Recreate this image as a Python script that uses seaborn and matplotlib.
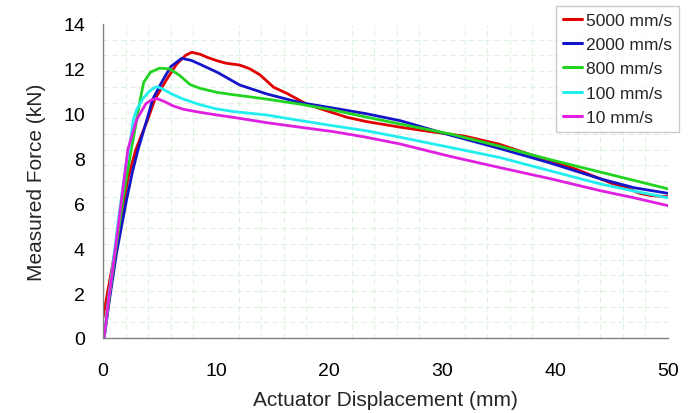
import numpy as np
import pandas as pd
import matplotlib
matplotlib.use("Agg")
import matplotlib.pyplot as plt
import seaborn as sns

# ---- data ----
series_names = ["5000 mm/s", "2000 mm/s", "800 mm/s", "100 mm/s", "10 mm/s"]

x_5000 = [0.0, 0.5, 1.0, 1.5, 2.2, 2.9, 4.0, 4.6, 5.6, 6.5, 7.3, 7.85, 8.6, 9.3, 10.1, 10.9, 12.1,
          13.0, 13.9, 15.1, 16.3, 18.0, 19.8, 21.6, 23.3, 26.3, 29.0, 32.0, 35.0, 38.0, 40.0,
          42.0, 43.5, 45.0, 46.0, 47.5, 48.5, 50.0]
y_5000 = [0.9, 2.3, 3.7, 5.1, 7.1, 8.4, 9.8, 10.65, 11.5, 12.2, 12.6, 12.74, 12.65, 12.5, 12.36, 12.25, 12.17,
          12.0, 11.73, 11.18, 10.9, 10.43, 10.13, 9.84, 9.65, 9.4, 9.2, 9.0, 8.65, 8.15, 7.85,
          7.5, 7.2, 6.9, 6.75, 6.45, 6.35, 6.3]

x_2000 = [0.1, 0.6, 1.2, 2.1, 2.6, 3.1, 3.9, 4.4, 5.3, 6.0, 6.96, 7.8, 8.6, 10.1, 12.1, 14.5, 17.4,
          20.4, 23.3, 26.3, 30.7, 35.1, 39.6, 44.0, 47.0, 50.0]
y_2000 = [0.0, 1.8, 3.8, 6.2, 7.4, 8.4, 9.76, 10.65, 11.5, 12.1, 12.47, 12.38, 12.2, 11.85, 11.28, 10.88, 10.5,
          10.25, 10.0, 9.69, 9.05, 8.45, 7.8, 7.1, 6.7, 6.45]

x_800 = [0.1, 0.6, 1.2, 1.8, 2.5, 3.0, 3.3, 3.6, 4.2, 5.0, 5.9, 6.8, 7.7, 8.6, 10.1, 11.5, 14.5,
         17.4, 20.4, 23.3, 26.3, 30.7, 35.1, 39.6, 44.0, 50.0]
y_800 = [0.0, 2.0, 4.2, 6.3, 8.4, 9.76, 10.65, 11.4, 11.85, 12.03, 12.0, 11.7, 11.3, 11.13, 10.95, 10.85, 10.65,
         10.43, 10.16, 9.85, 9.54, 9.1, 8.55, 7.95, 7.4, 6.65]

x_100 = [0.1, 0.5, 1.0, 1.5, 2.0, 2.3, 2.7, 3.0, 3.5, 4.0, 4.5, 4.8, 5.3, 6.0, 7.1, 8.6, 10.0,
         11.5, 14.5, 17.4, 20.4, 23.3, 26.3, 30.7, 35.1, 39.6, 44.0, 47.0, 50.0]
y_100 = [0.0, 1.8, 3.8, 5.8, 7.6, 8.4, 9.76, 10.2, 10.65, 10.95, 11.15, 11.2, 11.1, 10.9, 10.65, 10.4, 10.22,
         10.1, 9.94, 9.7, 9.46, 9.24, 8.95, 8.5, 8.05, 7.45, 6.87, 6.55, 6.25]

x_10 = [0.1, 0.5, 1.0, 1.5, 2.2, 2.6, 3.0, 3.4, 3.8, 4.3, 4.75, 5.4, 6.2, 7.1, 8.6, 10.0, 11.5,
        14.5, 17.4, 20.4, 23.3, 26.3, 30.7, 35.1, 39.6, 44.0, 47.0, 50.0]
y_10 = [0.0, 1.7, 3.6, 5.6, 8.4, 9.1, 9.76, 10.1, 10.45, 10.62, 10.68, 10.55, 10.35, 10.2, 10.06, 9.95, 9.84,
        9.6, 9.4, 9.2, 8.95, 8.65, 8.1, 7.6, 7.1, 6.57, 6.25, 5.9]

x_ticks = [0, 10, 20, 30, 40, 50]
y_ticks = [0, 2, 4, 6, 8, 10, 12, 14]

colors = ["#e00000", "#1414c8", "#22d422", "#22eef0", "#e020e0"]

xs = [x_5000, x_2000, x_800, x_100, x_10]
ys = [y_5000, y_2000, y_800, y_100, y_10]
frames = []
for name, xv, yv in zip(series_names, xs, ys):
    frames.append(pd.DataFrame({"disp": xv, "force": yv, "rate": name}))
df = pd.concat(frames, ignore_index=True)

# ---- plot ----
sns.set_style("white")
plt.rcParams["font.family"] = ["Liberation Sans", "DejaVu Sans"]

fig = plt.figure(figsize=(6.94, 4.14), dpi=100)
ax = fig.add_axes([103 / 694, 1 - 339 / 414, (668 - 103) / 694, (339 - 25) / 414])

sns.lineplot(data=df, x="disp", y="force", hue="rate", hue_order=series_names,
             palette=dict(zip(series_names, colors)), estimator=None, sort=False,
             units="rate", linewidth=2.0, ax=ax, legend=True)

ax.set_xlim(0, 50)
ax.set_ylim(0, 14)
ax.set_xticks(x_ticks)
ax.set_yticks(y_ticks)

# faint green dashed grid
ax.set_xticks(np.arange(0, 50.01, 2), minor=True)
ax.set_yticks(np.arange(0, 14.01, 0.7), minor=True)
ax.grid(which="minor", color="#def3de", linestyle=(0, (5, 3)), linewidth=0.8)
ax.grid(which="major", visible=False)
ax.set_axisbelow(True)

for s in ["top", "right"]:
    ax.spines[s].set_visible(False)
for s in ["left", "bottom"]:
    ax.spines[s].set_color("#808080")
    ax.spines[s].set_linewidth(1.0)

ax.tick_params(axis="both", which="major", direction="out", length=5, width=1,
               color="#808080", labelsize=14, labelcolor="black")
ax.tick_params(axis="y", which="major", pad=8)
ax.tick_params(axis="x", which="major", pad=12)
ax.tick_params(which="minor", length=0)

ax.set_xlabel("Actuator Displacement (mm)", fontsize=15, labelpad=8)
ax.set_ylabel("Measured Force (kN)", fontsize=15, labelpad=12)

handles, labels = ax.get_legend_handles_labels()
leg = ax.legend(handles, labels, loc="upper right",
                bbox_to_anchor=(679 / 694, 1 - 7 / 414), bbox_transform=fig.transFigure,
                fontsize=12.5, frameon=True, fancybox=False, shadow=False,
                handlelength=1.1, handletextpad=0.2, borderpad=0.4,
                labelspacing=0.52, borderaxespad=0)
leg.get_frame().set_edgecolor("#bdbdbd")
leg.get_frame().set_linewidth(1.0)
for line in leg.get_lines():
    line.set_linewidth(2.2)

fig.savefig("out.png", dpi=100)
